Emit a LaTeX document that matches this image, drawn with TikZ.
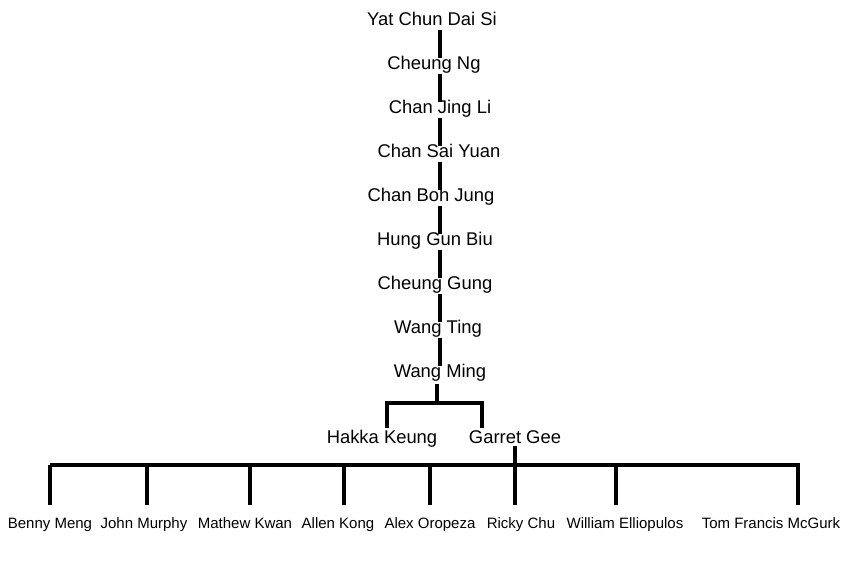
\documentclass[tikz,border=0pt]{standalone}
\usepackage{fontspec}
\setmainfont{Liberation Sans}
\begin{document}
\begin{tikzpicture}[x=1pt, y=-1pt, line width=4.5pt,
	master/.style={font=\fontsize{18.4}{22}\selectfont, inner sep=0pt, text height=13pt, text depth=4pt},
	student/.style={font=\fontsize{15}{18}\selectfont, inner sep=0pt, anchor=base, text height=11pt, outer ysep=12pt},
	link/.style={shorten <=-2pt, shorten >=-4pt}]
	\useasboundingbox (0,0) rectangle (860,560);
	% lineage
	\node[master] (yat) at (432,21) {Yat Chun Dai Si};
	\node[master] (cheungng) at (434,65) {Cheung Ng};
	\node[master] (jingli) at (440,109) {Chan Jing Li};
	\node[master] (saiyuan) at (439,153) {Chan Sai Yuan};
	\node[master] (bohjung) at (431,197) {Chan Boh Jung};
	\node[master] (gunbiu) at (435,241) {Hung Gun Biu};
	\node[master] (gung) at (435,285) {Cheung Gung};
	\node[master] (ting) at (438,329) {Wang Ting};
	\node[master] (ming) at (440,373) {Wang Ming};
	\coordinate (spine) at (440,0);
	\foreach \a/\b in {yat/cheungng, cheungng/jingli, jingli/saiyuan, saiyuan/bohjung,
		bohjung/gunbiu, gunbiu/gung, gung/ting, ting/ming}
	\draw[link] (\a.south -| spine) -- (\b.north -| spine);
	
	% Wang Ming's students
	\node[master] (hakka) at (382,439) {Hakka Keung};
	\node[master] (garret) at (515,439) {Garret Gee};
	\coordinate (fork) at (437,403);
	\coordinate (forkL) at (387,403);
	\coordinate (forkR) at (482,403);
	\draw (ming.south -| fork) -- (fork);
	\draw (hakka.north -| forkL) -- (forkL) -- (forkR) -- (garret.north -| forkR);
	
	% Garret Gee's students
	\node[student] (benny) at (50,528) {Benny Meng};
	\node[student] (john) at (144,528) {John Murphy};
	\node[student] (mathew) at (245,528) {Mathew Kwan};
	\node[student] (allen) at (338,528) {Allen Kong};
	\node[student] (alex) at (430,528) {Alex Oropeza};
	\node[student] (ricky) at (521,528) {Ricky Chu};
	\node[student] (william) at (625,528) {William Elliopulos};
	\node[student] (tom) at (771,528) {Tom Francis McGurk};
	\coordinate (busL) at (50,465);
	\coordinate (busR) at (800,465);
	\coordinate (drop) at (515,465);
	\draw (busL) -- (busR);
	\draw[shorten <=-4pt] (garret.south -| drop) -- (drop |- ricky.north);
	\foreach \n/\x in {benny/50, john/147, mathew/250, allen/344, alex/430, william/616, tom/798}
	{
		\coordinate (leg) at (\x,465);
		\draw (leg) -- (leg |- \n.north);
	}
\end{tikzpicture}
\end{document}
